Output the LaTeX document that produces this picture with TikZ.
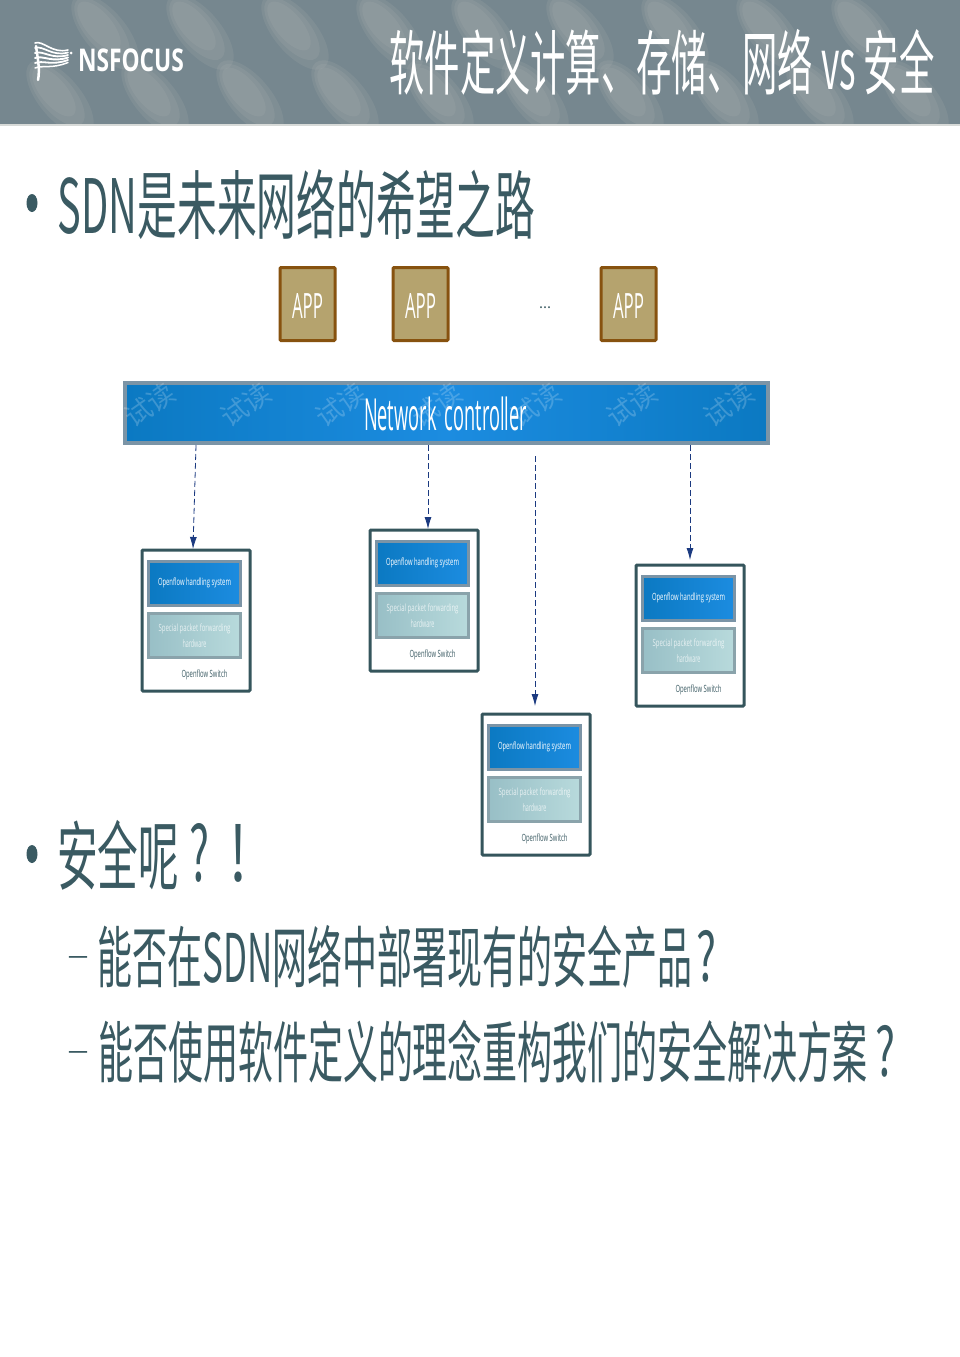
\documentclass[tikz,border=0pt]{standalone}
\usepackage{fontspec}
\usepackage{graphicx}
\setmainfont{Noto Sans CJK SC}
\newfontfamily\latinf{Open Sans}
\usetikzlibrary{arrows.meta}
\definecolor{hdr}{HTML}{76878F}
\definecolor{hdrlite}{HTML}{B0B4B2}
\definecolor{ink}{HTML}{3A5A62}
\definecolor{switchline}{HTML}{35555C}
\definecolor{blueA}{HTML}{0B79C2}
\definecolor{blueB}{HTML}{1C8CE0}
\definecolor{edgeblue}{HTML}{7B94A6}
\definecolor{greenA}{HTML}{98BFC6}
\definecolor{greenB}{HTML}{B8DADC}
\definecolor{edgegreen}{HTML}{8AA3AB}
\definecolor{brown}{HTML}{87520F}
\definecolor{khaki}{HTML}{B5A36E}
\definecolor{arrowblue}{HTML}{1B3A80}
\tikzset{
  x=1pt,y=-1pt,
  txt/.style={inner sep=0pt,outer sep=0pt,anchor=center},
  appbox/.style={draw=brown,line width=3pt,rounded corners=1pt,fill=khaki,minimum width=55pt,minimum height=73pt,inner sep=0pt},
  ctrlbox/.style={draw=edgeblue,line width=4pt,left color=blueA,right color=blueA,middle color=blueB,minimum width=643pt,minimum height=60pt,inner sep=0pt},
  swbox/.style={draw=switchline,line width=3pt,rounded corners=1pt,fill=white,minimum width=108pt,minimum height=141pt,inner sep=0pt},
  handle/.style={draw=edgeblue,line width=3pt,left color=blueA,right color=blueB,minimum width=92pt,minimum height=44pt,inner sep=0pt},
  special/.style={draw=edgegreen,line width=3pt,left color=greenA,right color=greenB,minimum width=92pt,minimum height=44pt,inner sep=0pt},
  link/.style={draw=arrowblue,line width=0.8pt,dash pattern=on 6pt off 3pt,-{Latex[length=12pt,width=7pt]}},
  blob/.style={fill=hdrlite,opacity=0.17,draw=none},
}
\newcommand{\fitxt}[3]{\resizebox*{#1pt}{#2pt}{#3}}
\newcommand{\softblob}[2]{%
  \fill[blob] (#1,#2) ellipse[x radius=46pt,y radius=21pt,rotate=-50];
  \fill[blob] (#1-3,#2-3) ellipse[x radius=38pt,y radius=17pt,rotate=-50];
  \fill[blob] (#1-6,#2-6) ellipse[x radius=30pt,y radius=13pt,rotate=-50];
}
% name, left x, top y
\newcommand{\switchunit}[3]{%
  \node[swbox] (#1) at (#2+55,#3+71.5) {};
  \node[handle] (#1h) at (#2+53.5,#3+34) {};
  \node[special] (#1s) at (#2+53.5,#3+86.5) {};
  \node[txt,text=white] (#1ht) at (#1h.center) {\fitxt{73}{10}{\latinf Openflow handling system}};
  \node[txt,text=white,opacity=.75] (#1st) at (#2+53.5,#3+80) {\fitxt{72}{10}{\latinf Special packet forwarding}};
  \node[txt,text=white,opacity=.75] (#1su) at (#2+53.5,#3+95) {\fitxt{24}{8}{\latinf hardware}};
  \node[txt,text=ink] (#1l) at (#2+63.5,#3+125.5) {\fitxt{46}{10}{\latinf Openflow Switch}};
}
\begin{document}
\begin{tikzpicture}
\useasboundingbox (0,0) rectangle (960,1357);
\fill[white] (0,0) rectangle (960,1357);
% header
\begin{scope}
\clip (0,0) rectangle (960,124);
\fill[hdr] (0,0) rectangle (960,124);
\foreach \bx in {105,200,295,390,485,580,675,770,865}
  {\softblob{\bx}{32}}
\foreach \bx in {60,155,250,345,440,535,630,725,820,915}
  {\softblob{\bx}{98}}
\end{scope}
\fill[hdrlite!50!white] (0,124) rectangle (960,126);
% logo
\foreach \dy/\w in {0/1.6,5/1.7,10/1.8,15/1.9,20/1.8,25/1.5}
  \draw[white,line width=\w pt,line cap=round] (35,43+\dy) .. controls (43,40+\dy) and (52,54+\dy*.6) .. (68,50+\dy*.5);
\draw[white,line width=2.5pt,line cap=round] (36,46) .. controls (38,60) and (40,70) .. (38,80);
\fill[white] (71,53) circle[radius=1.5pt];
\node[txt,text=white] (logo) at (131,60.5) {\fitxt{106}{23}{\latinf\bfseries NSFOCUS}};
\node[txt,text=white] (title) at (662,62) {\fitxt{545}{66}{软件定义计算、存储、网络 vs 安全}};
% bullets and text
\fill[ink] (32,203) ellipse[x radius=5.5pt,y radius=9pt];
\node[txt,text=ink] (b1) at (296.5,205) {\fitxt{477}{70}{SDN是未来网络的希望之路}};
\fill[ink] (32,854) ellipse[x radius=5.5pt,y radius=9pt];
\node[txt,text=ink] (b2) at (118,855) {\fitxt{122}{70}{安全呢}};
\node[txt,text=ink] (b2q) at (200,852.5) {\fitxt{20}{59}{?}};
\node[txt,text=ink] (b2e) at (238.5,853) {\fitxt{18}{58}{!}};
\node[txt,text=ink] (b3d) at (79,961) {\fitxt{22}{9}{–}};
\node[txt,text=ink] (b3) at (395,957) {\fitxt{594}{63}{能否在SDN网络中部署现有的安全产品}};
\node[txt,text=ink] (b3q) at (706,956) {\fitxt{20}{52}{?}};
\node[txt,text=ink] (b4d) at (79,1056) {\fitxt{22}{9}{–}};
\node[txt,text=ink] (b4) at (483,1052) {\fitxt{770}{63}{能否使用软件定义的理念重构我们的安全解决方案}};
\node[txt,text=ink] (b4q) at (885,1051) {\fitxt{20}{52}{?}};
% apps
\node[appbox] (app1) at (307.5,304) {};
\node[appbox] (app2) at (420.5,304) {};
\node[appbox] (app3) at (628.5,304) {};
\node[txt,text=white] at (307.5,305.5) {\fitxt{31}{25}{\latinf APP}};
\node[txt,text=white] at (420.5,305.5) {\fitxt{31}{25}{\latinf APP}};
\node[txt,text=white] at (628.5,305.5) {\fitxt{31}{25}{\latinf APP}};
\node[txt,text=ink] (dots) at (545,307.5) {\fitxt{12}{2}{...}};
% controller
\node[ctrlbox] (ctrl) at (446,412.5) {};
\foreach \wx in {150,246,341,437,536,632,729}
  \node[txt,text=white,opacity=.2,rotate=35,font=\fontsize{27}{27}\selectfont] at (\wx,405) {试读};
\node[txt,text=white] (ctrlt) at (445.5,414) {\fitxt{163}{34}{\latinf Network\hspace{0.45em}controller}};
% switches
\switchunit{sa}{141}{549}
\switchunit{sb}{369}{529}
\switchunit{sc}{635}{564}
\switchunit{sd}{481}{713}
% connectors
\coordinate (c1) at (196,445);
\coordinate (c2) at (428,445);
\coordinate (c3) at (535,456);
\coordinate (c4) at (690,445);
\coordinate (t1) at (193,549);
\coordinate (t2) at (428,529);
\coordinate (t3) at (535,706);
\coordinate (t4) at (690,560);
\draw[link] (c1) -- (t1);
\draw[link] (c2) -- (t2);
\draw[link] (c3) -- (t3);
\draw[link] (c4) -- (t4);
\end{tikzpicture}
\end{document}
